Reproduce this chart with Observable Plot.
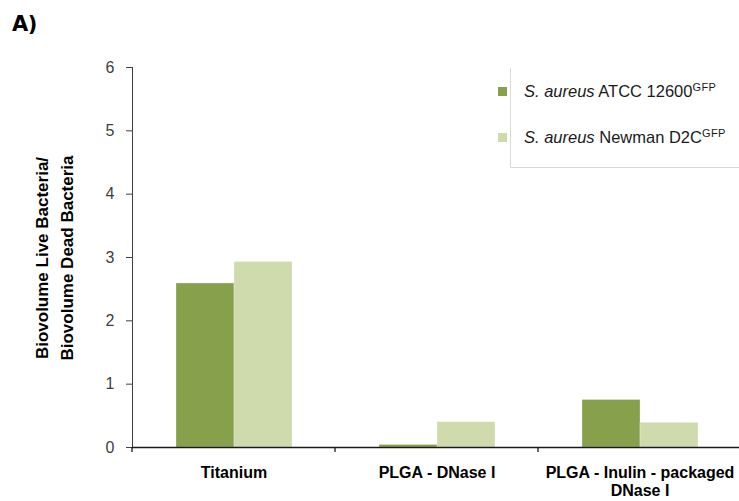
<!DOCTYPE html>
<html>
<head>
<meta charset="utf-8">
<script src="https://cdn.jsdelivr.net/npm/d3@7"></script>
<script src="https://cdn.jsdelivr.net/npm/@observablehq/plot@0.6"></script>
<style>
  html, body { margin: 0; padding: 0; background: #fff; }
  #wrap { position: relative; width: 739px; height: 501px; overflow: hidden;
          font-family: "Liberation Sans", Arial, sans-serif; }
  #wrap svg { position: absolute; left: 0; top: 0; }
  .panel { position: absolute; left: 12px; top: 12px; font-size: 21px; font-weight: 900;
           font-family: "DejaVu Sans", sans-serif; letter-spacing: -0.5px; }
  .ylab { position: absolute; left: 55px; top: 258px; width: 300px; transform: translate(-50%, -50%) rotate(-90deg);
          text-align: center; font-weight: bold; font-size: 17px; line-height: 25px; color: #000;
          font-family: "Liberation Sans", sans-serif; }
  .legend { position: absolute; left: 510px; top: 68px; width: 240px; height: 99px;
            border-left: 1px solid #d9d9d9; border-bottom: 1px solid #d9d9d9; }
  .item { position: absolute; left: 13px; font-size: 16.5px; color: #1a1a1a; white-space: nowrap; }
  .item i { font-style: italic; }
  .item sup { font-size: 11px; vertical-align: 6px; letter-spacing: 0.4px; }
  .sw { position: absolute; left: -26px; width: 9px; height: 9px; top: 6px; }
</style>
</head>
<body>
<div id="wrap"></div>
<script>
// Biovolume ratio (live / dead) per surface and strain
const categories = ["Titanium", "PLGA - DNase I", "PLGA - Inulin - packaged DNase I"];
const categoryLabels = ["Titanium", "PLGA - DNase I", "PLGA - Inulin - packaged\nDNase I"];
const series = ["ATCC 12600", "Newman D2C"];
const atcc12600 = [2.59, 0.04, 0.75];
const newmanD2C = [2.93, 0.40, 0.39];
const seriesColors = ["#86a04c", "#cfdaad"];
const yTicks = [0, 1, 2, 3, 4, 5, 6];

const rows = categories.flatMap((c, i) => [
  {category: c, series: series[0], value: atcc12600[i]},
  {category: c, series: series[1], value: newmanD2C[i]}
]);

const W = 739, H = 501;
const chart = Plot.plot({
  width: W,
  height: H,
  marginLeft: 131,
  marginRight: -2,
  marginTop: 67,
  marginBottom: 54,
  style: {fontFamily: "'Liberation Sans', Arial, sans-serif", fontSize: "16px", color: "#404040", background: "transparent"},
  fx: {domain: categories, padding: 0, axis: null},
  x: {domain: series, paddingInner: 0, paddingOuter: 0.75, axis: null},
  y: {domain: [0, 6], ticks: yTicks, tickSize: 6, tickPadding: 12, line: true, label: null, tickFormat: d3.format("d")},
  color: {domain: series, range: seriesColors},
  marks: [
    Plot.barY(rows, {fx: "category", x: "series", y: "value", fill: "series", inset: 0,
                     stroke: "#ffffff", strokeOpacity: 0.35, strokeWidth: 0.8}),
    Plot.ruleY([0], {stroke: "#1a1a1a", strokeWidth: 1.3}),
    Plot.text(categories, {fx: d => d, text: d => categoryLabels[categories.indexOf(d)],
                          frameAnchor: "bottom", lineAnchor: "top", dy: 17, lineHeight: 1.15,
                          fontWeight: "bold", fontSize: 16, fill: "#000"})
  ]
});

const svg = d3.select(chart.tagName === "svg" ? chart : chart.querySelector("svg"));

// Larger grey tick labels on the y axis
svg.selectAll('[aria-label*="y-axis"]').filter(function () {
  return this.querySelector && this.querySelector("text");
}).attr("font-size", 16).style("font-size", "16px").selectAll("text").style("font-size", "16px").style("fill", "#404040");

// Boundary ticks between category groups, positioned from the fx and y scales
const fx = chart.scale("fx");
const y = chart.scale("y");
const y0 = y.apply(0);
const bounds = categories.map(c => fx.apply(c));
svg.append("g").selectAll("line").data(bounds).join("line")
  .attr("x1", d => d).attr("x2", d => d)
  .attr("y1", y0).attr("y2", y0 + 5)
  .attr("stroke", "#1a1a1a").attr("stroke-width", 1.3);

const wrap = document.getElementById("wrap");
wrap.appendChild(chart);

wrap.insertAdjacentHTML("beforeend", `
  <div class="panel">A)</div>
  <div class="ylab">Biovolume Live Bacteria/<br>Biovolume Dead Bacteria</div>
  <div class="legend">
    <div class="item" style="top:13px"><span class="sw" style="background:${seriesColors[0]}"></span><i>S. aureus</i> ATCC 12600<sup>GFP</sup></div>
    <div class="item" style="top:59px"><span class="sw" style="background:${seriesColors[1]}"></span><i>S. aureus</i> Newman D2C<sup>GFP</sup></div>
  </div>`);
</script>
</body>
</html>
